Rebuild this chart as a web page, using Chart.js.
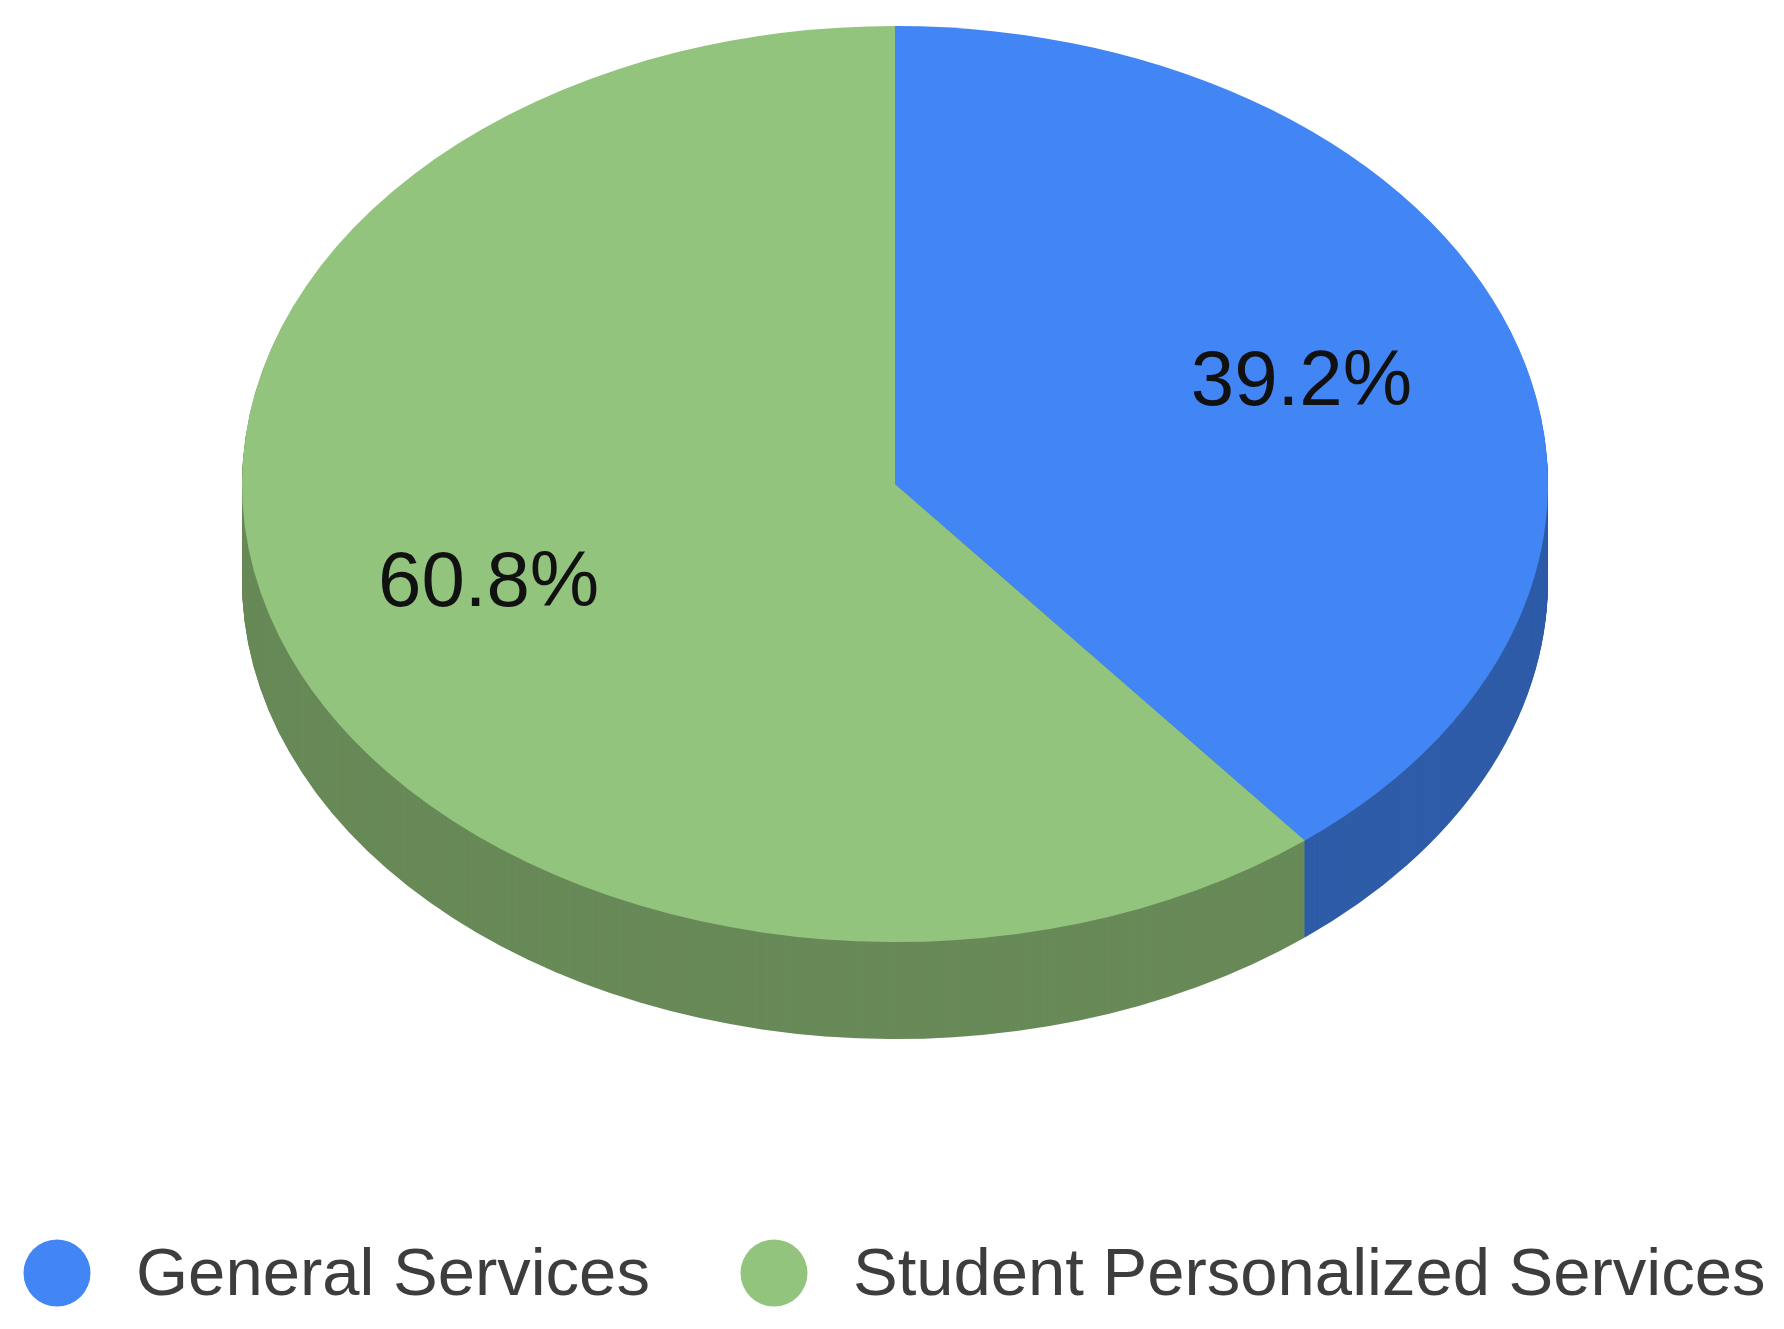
<!DOCTYPE html>
<html>
<head>
<meta charset="utf-8">
<style>
  html, body { margin: 0; padding: 0; background: #fff; overflow: hidden; }
  canvas { display: block; filter: blur(0.7px); }
</style>
<script src="https://cdn.jsdelivr.net/npm/chart.js@4"></script>
</head>
<body>
<canvas id="pieChart" width="1784" height="1329"></canvas>
<script>
const categories = ['General Services', 'Student Personalized Services'];
const shares = [39.2, 60.8];
const topColors = ['#4285f4', '#93c47d'];
const sideColors = ['#2e5ca8', '#688a58'];

// how the flat Chart.js circle is laid onto the tilted disc
const discX = 895;
const discY = 484;
const radiusX = 653;
const radiusY = 458;
const depth = 97;
const labelAt = 0.66;

// legend geometry, the built-in legend wraps at this width
const legendDotX = [57, 774];
const legendTextX = [136, 853];
const legendY = 1273;
const legendTextY = 1277;
const legendDot = 33.5;

function tilt(ctx, el, offset) {
    ctx.translate(discX, discY + offset);
    ctx.scale(radiusX / el.outerRadius, radiusY / el.outerRadius);
    ctx.translate(-el.x, -el.y);
}

const tiltedPie = {
    id: 'tiltedPie',
    // Side wall: stack the sectors from the bottom up
    beforeDatasetsDraw(chart) {
        const ctx = chart.ctx;
        const arcs = chart.getDatasetMeta(0).data;
        for (let offset = depth; offset > 0; offset--) {
            arcs.forEach((el, i) => {
                ctx.save();
                tilt(ctx, el, offset);
                ctx.fillStyle = sideColors[i];
                ctx.beginPath();
                ctx.moveTo(el.x, el.y);
                ctx.arc(el.x, el.y, el.outerRadius, el.startAngle, el.endAngle);
                ctx.closePath();
                ctx.fill();
                ctx.restore();
            });
        }
    },
    beforeDatasetDraw(chart) {
        const el = chart.getDatasetMeta(0).data[0];
        chart.ctx.save();
        tilt(chart.ctx, el, 0);
    },
    afterDatasetDraw(chart) {
        chart.ctx.restore();
    },
    afterDraw(chart) {
        const ctx = chart.ctx;
        // Percent labels
        ctx.save();
        ctx.font = '78px "Liberation Sans"';
        ctx.fillStyle = '#111';
        ctx.textAlign = 'center';
        ctx.textBaseline = 'middle';
        chart.getDatasetMeta(0).data.forEach((el, i) => {
            const mid = (el.startAngle + el.endAngle) / 2;
            const x = discX + radiusX * labelAt * Math.cos(mid);
            const y = discY + radiusY * labelAt * Math.sin(mid);
            ctx.fillText(shares[i].toFixed(1) + '%', x, y);
        });
        ctx.restore();

        // Legend
        ctx.save();
        ctx.font = '67px "Liberation Sans"';
        ctx.textBaseline = 'middle';
        categories.forEach((name, i) => {
            ctx.fillStyle = topColors[i];
            ctx.beginPath();
            ctx.arc(legendDotX[i], legendY, legendDot, 0, Math.PI * 2);
            ctx.fill();
            ctx.fillStyle = '#3d3d3d';
            ctx.fillText(name, legendTextX[i], legendTextY);
        });
        ctx.restore();
    }
};

new Chart(document.getElementById('pieChart'), {
    type: 'pie',
    data: {
        labels: categories,
        datasets: [{
            data: shares,
            backgroundColor: topColors,
            borderWidth: 0,
            radius: radiusX
        }]
    },
    options: {
        responsive: false,
        animation: false,
        layout: { padding: 0 },
        plugins: {
            legend: { display: false },
            tooltip: { enabled: false }
        }
    },
    plugins: [tiltedPie]
});
</script>
</body>
</html>
